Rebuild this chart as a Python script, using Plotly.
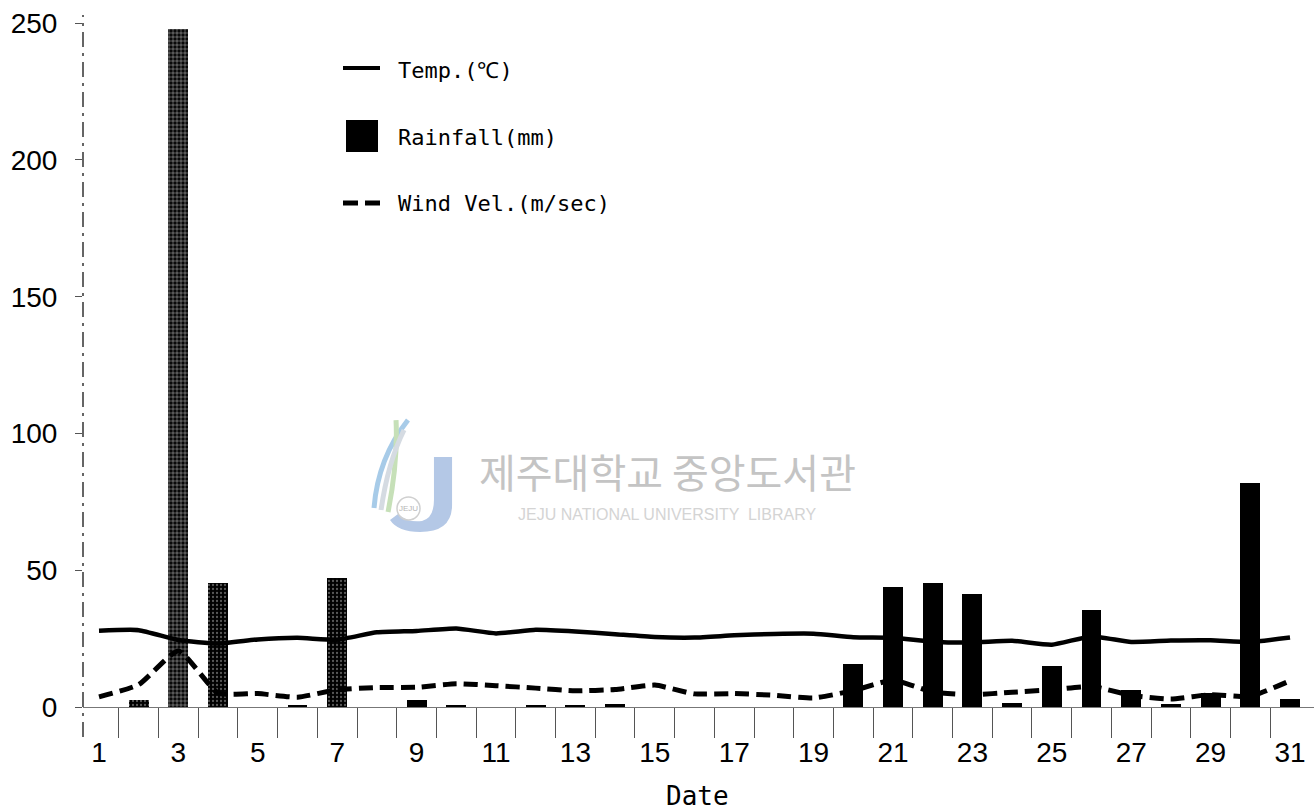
import plotly.graph_objects as go

# Daily weather for one month
days = list(range(1, 32))
temp_c = [27.9, 28.1, 24.5, 23.2, 24.7, 25.3, 24.6, 27.3, 27.8, 28.7,
          26.9, 28.2, 27.6, 26.6, 25.6, 25.4, 26.2, 26.7, 26.8, 25.5,
          25.3, 23.9, 23.6, 24.2, 22.8, 25.8, 23.8, 24.3, 24.4, 23.8, 25.4]
rain_mm = [0, 2.7, 248, 45.2, 0, 0.6, 47.1, 0, 2.5, 0.5,
           0, 0.4, 0.6, 1.2, 0, 0, 0, 0, 0, 15.6,
           44.0, 45.2, 41.3, 1.3, 15.1, 35.4, 6.1, 1.2, 5.3, 81.9, 2.9]
wind_ms = [3.7, 8.2, 20.5, 5.1, 4.9, 3.6, 6.3, 7.1, 7.2, 8.5,
           7.8, 6.9, 5.9, 6.4, 8.0, 4.8, 4.9, 4.3, 3.3, 6.0,
           9.8, 5.5, 4.5, 5.4, 6.3, 7.5, 4.3, 2.9, 4.5, 3.9, 9.6]
x_labels = [str(d) for d in days if d % 2 == 1]
y_ticks = [0, 50, 100, 150, 200, 250]

W, H = 1314, 811
ML, MR, MT, MB = 83, 0, 15, 104
PW, PH = W - ML - MR, H - MT - MB


def px(x):
    return (x - ML) / PW


def py(y):
    return (H - MB - y) / PH


# speckled fill on the early heavy-rain bars
speckled = {2, 3, 4, 7}
pattern_shape = ["." if d in speckled else "" for d in days]
pattern_solid = [0.6 if d == 3 else 0.25 for d in days]

fig = go.Figure()
fig.add_trace(go.Scatter(
    x=days, y=temp_c, mode="lines", showlegend=False,
    line=dict(color="black", width=4.5, shape="spline", smoothing=0.5),
))
fig.add_trace(go.Scatter(
    x=days, y=wind_ms, mode="lines", showlegend=False,
    line=dict(color="black", width=5, dash="14px,7px",
              shape="spline", smoothing=0.5),
))
fig.add_trace(go.Bar(
    x=days, y=rain_mm, width=0.5, showlegend=False,
    marker=dict(color="black", line=dict(width=0),
                pattern=dict(shape=pattern_shape, fgcolor="#b0b0b0",
                             fillmode="overlay", size=4,
                             solidity=pattern_solid)),
))

shapes = []
annotations = []

# dashed vertical axis line
shapes.append(dict(type="line", xref="paper", yref="paper",
                   x0=0, x1=0, y0=py(737), y1=1,
                   line=dict(color="#333", width=1.5, dash="longdashdot")))

# legend samples
lx0, lx1 = px(343), px(380)
shapes.append(dict(type="line", xref="paper", yref="paper",
                   x0=lx0, x1=lx1, y0=py(68), y1=py(68),
                   line=dict(color="black", width=4)))
shapes.append(dict(type="rect", xref="paper", yref="paper",
                   x0=px(346), x1=px(378), y0=py(152), y1=py(120),
                   fillcolor="black", line=dict(width=0)))
shapes.append(dict(type="line", xref="paper", yref="paper",
                   x0=lx0, x1=lx1, y0=py(203), y1=py(203),
                   line=dict(color="black", width=5, dash="15px,7px")))

legend_font = dict(family="DejaVu Sans Mono", size=22, color="black")
for text, yy in [("Temp.(℃)", 70), ("Rainfall(mm)", 137),
                 ("Wind Vel.(m/sec)", 203)]:
    annotations.append(dict(text=text, xref="paper", yref="paper",
                            x=px(396), y=py(yy), xanchor="left",
                            yanchor="middle", showarrow=False,
                            font=legend_font))

# library watermark
annotations.append(dict(text="제주대학교 중앙도서관", xref="paper", yref="paper",
                        x=px(667), y=py(471), xanchor="center",
                        yanchor="middle", showarrow=False,
                        font=dict(family="Noto Sans CJK KR", size=40,
                                  color="#c4c4c4")))
annotations.append(dict(text="JEJU NATIONAL UNIVERSITY  LIBRARY",
                        xref="paper", yref="paper",
                        x=px(667), y=py(514), xanchor="center",
                        yanchor="middle", showarrow=False,
                        font=dict(family="Liberation Sans", size=16,
                                  color="#d4d4d4")))
annotations.append(dict(text="JEJU", xref="paper", yref="paper",
                        x=px(408), y=py(509), xanchor="center",
                        yanchor="middle", showarrow=False,
                        font=dict(family="Liberation Sans", size=8,
                                  color="#b5b5b5")))


def qpath(cmds):
    out = []
    for c in cmds:
        if c[0] == "M" or c[0] == "L":
            out.append(f"{c[0]} {px(c[1]):.4f},{py(c[2]):.4f}")
        elif c[0] == "Q":
            out.append(f"Q {px(c[1]):.4f},{py(c[2]):.4f} "
                       f"{px(c[3]):.4f},{py(c[4]):.4f}")
        elif c[0] == "Z":
            out.append("Z")
    return " ".join(out)


logo_j = qpath([("M", 434, 457), ("L", 452, 457), ("L", 452, 505),
                ("Q", 452, 532, 420, 532), ("Q", 398, 532, 390, 520),
                ("L", 398, 514), ("Q", 408, 523, 422, 521),
                ("Q", 434, 518, 434, 500), ("Z",)])
shapes.append(dict(type="path", xref="paper", yref="paper", path=logo_j,
                   fillcolor="#b4c8e6", line=dict(width=0)))
for cmds, col in [
    ([("M", 374, 508), ("Q", 378, 458, 408, 420)], "#a7cbe8"),
    ([("M", 388, 512), ("Q", 398, 462, 396, 420)], "#c6e0b8"),
    ([("M", 381, 510), ("Q", 388, 462, 404, 430)], "#d5dbe2"),
]:
    shapes.append(dict(type="path", xref="paper", yref="paper",
                       path=qpath(cmds), line=dict(color=col, width=5)))
shapes.append(dict(type="circle", xref="paper", yref="paper",
                   x0=px(397), x1=px(420), y0=py(520), y1=py(497),
                   line=dict(color="#d0d0d0", width=1.5)))

# axis title
annotations.append(dict(text="Date", xref="paper", yref="paper",
                        x=px(697), y=py(796), xanchor="center",
                        yanchor="middle", showarrow=False,
                        font=dict(family="DejaVu Sans Mono", size=26,
                                  color="black")))

fig.update_layout(
    width=W, height=H,
    margin=dict(l=ML, r=MR, t=MT, b=MB, pad=0),
    paper_bgcolor="white", plot_bgcolor="white",
    font=dict(family="Liberation Sans", color="black"),
    bargap=0,
    shapes=shapes, annotations=annotations,
    xaxis=dict(
        range=[0.597, 31.604],
        tickmode="array",
        tickvals=[d for d in days if d % 2 == 1], ticktext=x_labels,
        ticks="outside", ticklen=20, tickcolor="rgba(0,0,0,0)",
        tickfont=dict(size=28, family="Liberation Sans"),
        showgrid=False, zeroline=False,
        showline=True, linecolor="#777", linewidth=1,
        minor=dict(tickmode="array",
                   tickvals=[d + 0.5 for d in days[:-1]],
                   ticks="outside", ticklen=30, tickwidth=1,
                   tickcolor="#555", showgrid=False),
    ),
    yaxis=dict(
        range=[0, 253],
        tickmode="array", tickvals=y_ticks,
        ticktext=[str(v) for v in y_ticks],
        ticks="outside", ticklen=7, tickwidth=1, tickcolor="#555",
        ticklabelstandoff=12,
        tickfont=dict(size=28, family="Liberation Sans"),
        showgrid=False, zeroline=False, showline=False,
    ),
)

fig.write_html("out.html")
